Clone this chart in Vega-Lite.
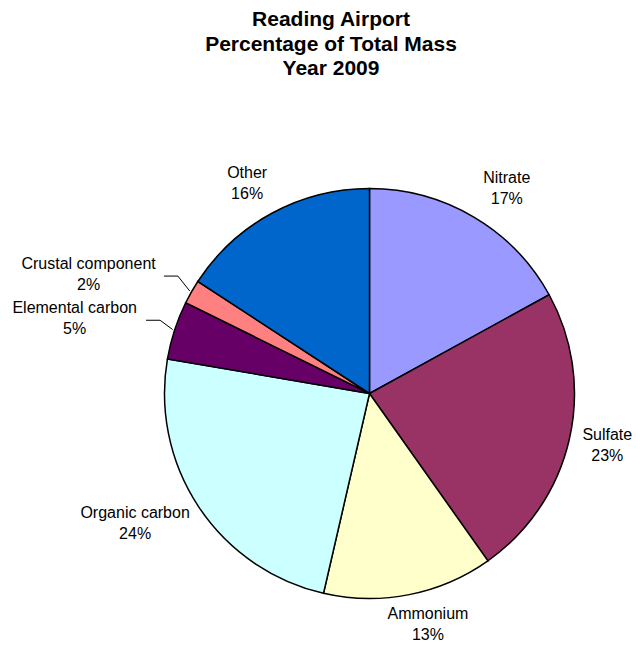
{
  "$schema": "https://vega.github.io/schema/vega-lite/v6.json",
  "width": 539,
  "height": 501,
  "autosize": {"type": "none"},
  "padding": {"left": 100, "top": 143, "right": 0, "bottom": 0},
  "background": "white",
  "title": {
    "text": ["Reading Airport", "Percentage of Total Mass", "Year 2009"],
    "font": "Liberation Sans",
    "fontSize": 21,
    "fontWeight": "bold",
    "lineHeight": 24.5,
    "color": "black",
    "anchor": "middle",
    "dx": -38.5,
    "offset": 64
  },
  "data": {
    "values": [
      {"component": "Nitrate", "pct": 17.0, "ord": 1},
      {"component": "Sulfate", "pct": 23.2, "ord": 2},
      {"component": "Ammonium", "pct": 13.4, "ord": 3},
      {"component": "Organic carbon", "pct": 24.1, "ord": 4},
      {"component": "Elemental carbon", "pct": 4.6, "ord": 5},
      {"component": "Crustal component", "pct": 1.9, "ord": 6},
      {"component": "Other", "pct": 15.8, "ord": 7}
    ]
  },
  "transform": [
    {"window": [{"op": "sum", "field": "pct", "as": "cum"}], "sort": [{"field": "ord"}], "frame": [null, 0]},
    {"calculate": "datum.cum - datum.pct / 2", "as": "mid"},
    {"calculate": "2 * PI * datum.mid / 100", "as": "th"},
    {"calculate": "sin(datum.th)", "as": "s"},
    {"calculate": "cos(datum.th)", "as": "c"},
    {"calculate": "3.9 * length(datum.component)", "as": "w"},
    {"calculate": "datum.s < 0 ? -1 : 1", "as": "side"},
    {"calculate": "datum.pct < 5 ? 27 : 0", "as": "extra"},
    {"calculate": "216 * datum.s + datum.w * clamp(2.75 * datum.s, -1, 1) + datum.side * datum.extra", "as": "px"},
    {"calculate": "-237 * datum.c", "as": "py"},
    {"calculate": "datum.component + '\\n' + format(datum.pct, '.0f') + '%'", "as": "label"},
    {"calculate": "datum.px - datum.side * (datum.w + 9)", "as": "lx1"},
    {"calculate": "datum.lx1 - datum.side * 14", "as": "lx2"},
    {"calculate": "207 * datum.s", "as": "ex"},
    {"calculate": "-207 * datum.c", "as": "ey"}
  ],
  "layer": [
    {
      "mark": {"type": "arc", "outerRadius": 205, "stroke": "black", "strokeWidth": 1.5},
      "encoding": {
        "theta": {"field": "pct", "type": "quantitative", "stack": true},
        "order": {"field": "ord", "type": "quantitative"},
        "color": {
          "field": "component",
          "type": "nominal",
          "scale": {
            "domain": ["Nitrate", "Sulfate", "Ammonium", "Organic carbon", "Elemental carbon", "Crustal component", "Other"],
            "range": ["#9999FF", "#993366", "#FFFFCC", "#CCFFFF", "#660066", "#FF8080", "#0066CC"]
          },
          "legend": null
        }
      }
    },
    {
      "transform": [{"filter": "datum.pct < 5"}],
      "mark": {"type": "rule", "color": "black", "strokeWidth": 1},
      "encoding": {
        "x": {"field": "lx1", "type": "quantitative", "scale": {"domain": [-269.5, 269.5], "zero": false, "nice": false}, "axis": null},
        "x2": {"field": "lx2"},
        "y": {"field": "py", "type": "quantitative", "scale": {"domain": [-250.5, 250.5], "zero": false, "nice": false, "reverse": true}, "axis": null},
        "y2": {"field": "py"}
      }
    },
    {
      "transform": [{"filter": "datum.pct < 5"}],
      "mark": {"type": "rule", "color": "black", "strokeWidth": 1},
      "encoding": {
        "x": {"field": "lx2", "type": "quantitative", "scale": {"domain": [-269.5, 269.5], "zero": false, "nice": false}, "axis": null},
        "x2": {"field": "ex"},
        "y": {"field": "py", "type": "quantitative", "scale": {"domain": [-250.5, 250.5], "zero": false, "nice": false, "reverse": true}, "axis": null},
        "y2": {"field": "ey"}
      }
    },
    {
      "mark": {
        "type": "text",
        "font": "Liberation Sans",
        "fontSize": 16,
        "lineHeight": 21,
        "lineBreak": "\n",
        "align": "center",
        "baseline": "middle",
        "dy": -12,
        "color": "black"
      },
      "encoding": {
        "x": {"field": "px", "type": "quantitative", "scale": {"domain": [-269.5, 269.5], "zero": false, "nice": false}, "axis": null},
        "y": {"field": "py", "type": "quantitative", "scale": {"domain": [-250.5, 250.5], "zero": false, "nice": false, "reverse": true}, "axis": null},
        "text": {"field": "label", "type": "nominal"}
      }
    }
  ],
  "config": {"view": {"stroke": null}}
}
